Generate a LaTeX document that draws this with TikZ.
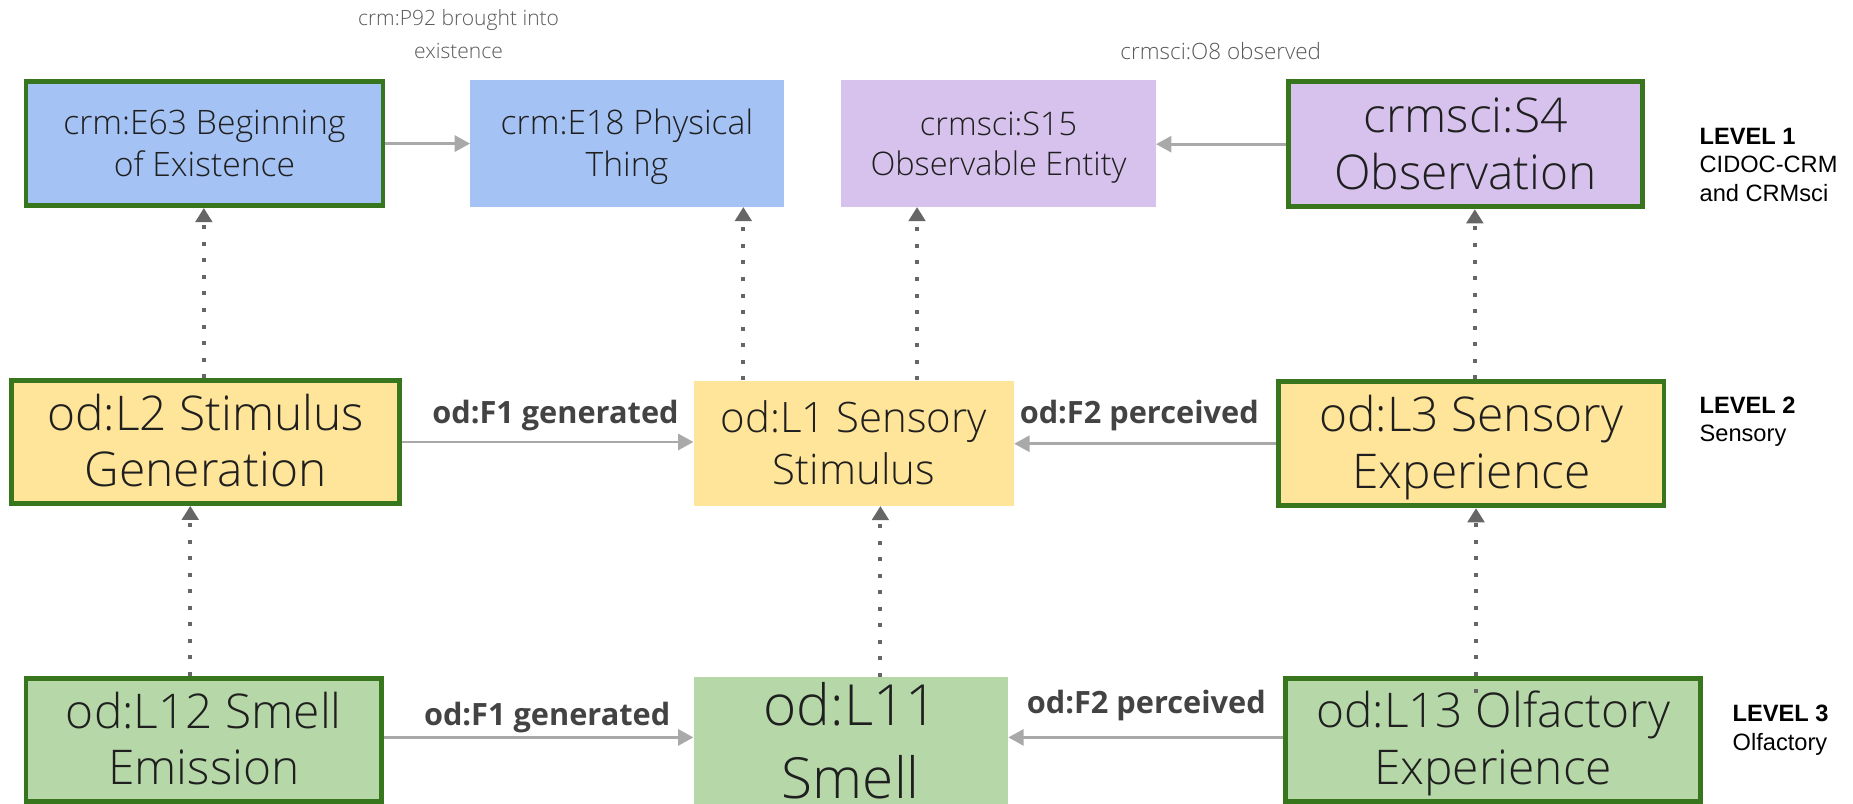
\documentclass[tikz,border=0pt]{standalone}
\usepackage{fontspec}
\setmainfont{Open Sans}[UprightFont=* Light, BoldFont=* Bold]
\newfontfamily\lvlfont{Liberation Sans}
\usetikzlibrary{arrows.meta}
\newcommand{\ls}{\rule[-.2\baselineskip]{0pt}{\baselineskip}}
\definecolor{cblue}{HTML}{A4C2F4}
\definecolor{cpurple}{HTML}{D6C2EC}
\definecolor{cyellow}{HTML}{FFE599}
\definecolor{cgreen}{HTML}{B6D7A8}
\definecolor{dgreen}{HTML}{38761D}
\definecolor{agray}{HTML}{A9A9A9}
\definecolor{dgray}{HTML}{666666}
\definecolor{lblgray}{HTML}{434343}
\definecolor{topgray}{HTML}{595959}
\definecolor{txt}{HTML}{1F1F1F}
\tikzset{
  box/.style={rectangle, inner sep=0pt, align=center, text=txt},
  gborder/.style={draw=dgreen, line width=4pt},
  fsmall/.style={font=\fontsize{28.5}{34}\selectfont},
  fbig/.style={font=\fontsize{40.5}{47}\selectfont},
  sarrow/.style={draw=agray, line width=2.5pt, -{Triangle[length=13pt,width=13.5pt]}},
  darrow/.style={draw=dgray, line width=3.4pt, dash pattern=on 3.4pt off 10.6pt, -{Triangle[length=12pt,width=14pt]}},
  elabel/.style={font=\bfseries\fontsize{26}{30}\selectfont, text=lblgray, inner sep=0pt},
  tlabel/.style={text=topgray, align=center, inner sep=0pt},
  lvl/.style={font=\lvlfont\fontsize{20}{24}\selectfont, align=left, anchor=west, inner sep=0pt, text=black}
}
\begin{document}
\begin{tikzpicture}[x=1pt,y=-1pt]
\useasboundingbox (0,0) rectangle (1568,680);
% Level 1
\node[box, fsmall, gborder, fill=cblue, minimum width=302pt, minimum height=105pt] (E63) at (173,121.5) {\ls crm:E63 Beginning\\\ls of Existence};
\node[box, fsmall, fill=cblue, minimum width=265pt, minimum height=107pt] (E18) at (530.5,121.5) {\ls crm:E18 Physical\\\ls Thing};
\node[box, font=\fontsize{27.5}{34}\selectfont, fill=cpurple, minimum width=266pt, minimum height=107pt] (S15) at (845,121.5) {\ls crmsci:S15\\\ls Observable Entity};
\node[box, font=\fontsize{40.5}{48}\selectfont, gborder, fill=cpurple, minimum width=300pt, minimum height=106pt] (S4) at (1240,122) {\ls crmsci:S4\\\ls Observation};
% Level 2
\node[box, fbig, gborder, fill=cyellow, minimum width=328pt, minimum height=104pt] (L2) at (174,374) {\ls od:L2 Stimulus\\\ls Generation};
\node[box, font=\fontsize{35.5}{44}\selectfont, fill=cyellow, minimum width=271pt, minimum height=106pt] (L1) at (722.5,375) {\ls od:L1 Sensory\\\ls Stimulus};
\node[box, fbig, gborder, fill=cyellow, minimum width=326pt, minimum height=105pt] (L3) at (1245,375.5) {\ls od:L3 Sensory\\\ls Experience};
% Level 3
\node[box, fbig, gborder, fill=cgreen, minimum width=301pt, minimum height=104pt] (L12) at (172.5,626) {\ls od:L12 Smell\\\ls Emission};
\node[box, font=\fontsize{48}{61.5}\selectfont, fill=cgreen, inner ysep=-8.5pt, minimum width=266pt, minimum height=107pt] (L11) at (720,626.5) {\ls od:L11\\\ls Smell};
\node[box, fbig, gborder, fill=cgreen, minimum width=351pt, minimum height=104pt] (L13) at (1263.5,626) {\ls od:L13 Olfactory\\\ls Experience};
% horizontal arrows
\draw[sarrow] (E63.east) -- (E63.east -| E18.west);
\draw[sarrow] (S4.west) -- (S4.west -| S15.east);
\draw[sarrow] (L2.east) -- (L2.east -| L1.west);
\draw[sarrow] (L3.west) -- (L3.west -| L1.east);
\draw[sarrow] ([yshift=2pt]L12.east) -- ([yshift=2pt]L12.east -| L11.west);
\draw[sarrow] ([yshift=2pt]L13.west) -- ([yshift=2pt]L13.west -| L11.east);
% labels
\node[tlabel, font=\fontsize{17.8}{28}\selectfont] (p92) at (388,29) {crm:P92 brought into\\existence};
\node[tlabel, font=\fontsize{19}{28}\selectfont] (o8) at (1033,43) {crmsci:O8 observed};
\node[elabel] (f1a) at (470,352) {od:F1 generated};
\node[elabel] (f2a) at (964,352) {od:F2 perceived};
\node[elabel] (f1b) at (463,607) {od:F1 generated};
\node[elabel] (f2b) at (970,597) {od:F2 perceived};
% dotted arrows
\coordinate (d1) at ([xshift=-1.5pt]L2.north);
\draw[darrow] (d1) -- (d1 |- E63.south);
\coordinate (d2) at ([xshift=-93.5pt]L1.north);
\draw[darrow] (d2) -- (d2 |- E18.south);
\coordinate (d3) at ([xshift=53.5pt]L1.north);
\draw[darrow] (d3) -- (d3 |- S15.south);
\coordinate (d4) at ([xshift=3pt]L3.north);
\draw[darrow] (d4) -- (d4 |- S4.south);
\coordinate (d5) at ([xshift=-11.5pt]L12.north);
\draw[darrow] (d5) -- (d5 |- L2.south);
\coordinate (d6) at ([xshift=25pt]L11.north);
\draw[darrow] (d6) -- (d6 |- L1.south);
\coordinate (d7) at (1249,586);
\draw[darrow] (d7) -- (d7 |- L3.south);
% level labels
\node[lvl] (lv1) at (1438,139.5) {\textbf{LEVEL 1}\\CIDOC-CRM\\and CRMsci};
\node[lvl] (lv2) at (1438,357) {\textbf{LEVEL 2}\\Sensory};
\node[lvl] (lv3) at (1466,618) {\textbf{LEVEL 3}\\Olfactory};
\end{tikzpicture}
\end{document}
